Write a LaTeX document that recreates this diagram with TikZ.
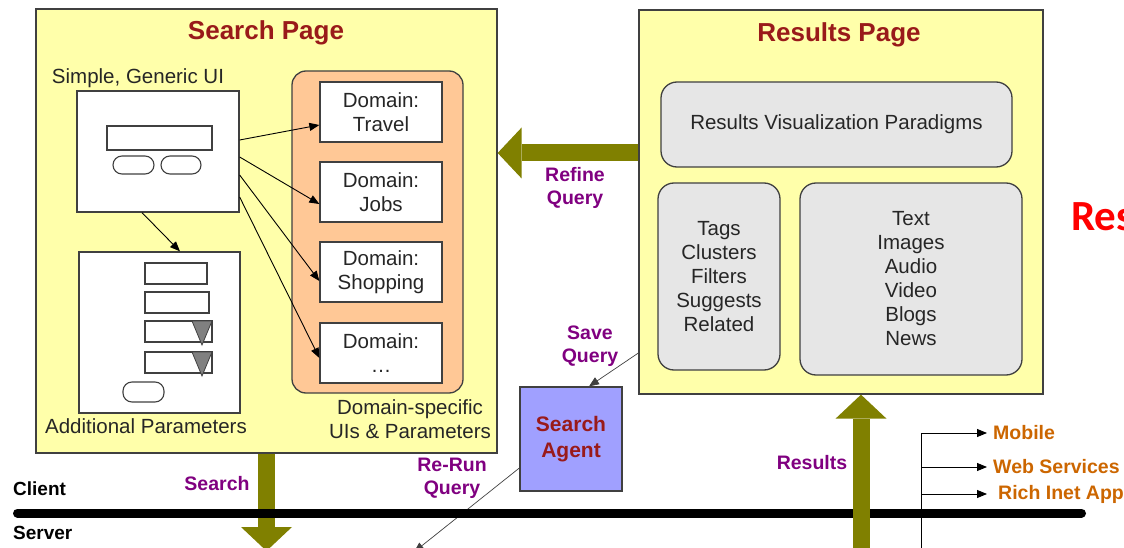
\documentclass[tikz,border=0pt]{standalone}
\usepackage{fontspec}
\setmainfont{Liberation Sans}
\newfontfamily\calibfont{Carlito}
\usepackage{tikz}
\usetikzlibrary{arrows.meta}

\definecolor{pageyellow}{RGB}{255,255,170}
\definecolor{domorange}{RGB}{255,200,150}
\definecolor{boxgray}{RGB}{230,230,230}
\definecolor{agentblue}{RGB}{160,160,255}
\definecolor{titlered}{RGB}{153,26,26}
\definecolor{labelpurple}{RGB}{128,0,128}
\definecolor{outorange}{RGB}{204,102,0}
\definecolor{arrowolive}{RGB}{128,128,0}
\definecolor{edgegray}{RGB}{64,64,64}

\newcommand{\bodysize}{\fontsize{20.5}{24}\selectfont}
\newcommand{\titlesize}{\fontsize{26}{30}\selectfont\bfseries}
\newcommand{\tagsize}{\fontsize{19.5}{23}\selectfont\bfseries}

\begin{document}
\begin{tikzpicture}[x=1pt,y=-1pt,
    page/.style={draw=edgegray,line width=1.3pt,fill=pageyellow,inner sep=0pt},
    whitebox/.style={draw=edgegray,line width=1.3pt,fill=white},
    plain/.style={inner sep=0pt,align=center,font=\bodysize,text=black!85},
    graybox/.style={draw=edgegray,line width=1.3pt,fill=boxgray,rounded corners=16pt,plain},
    title/.style={inner sep=0pt,font=\titlesize,text=titlered},
    flowlabel/.style={inner sep=0pt,align=center,font=\tagsize,text=labelpurple},
    bigarrow/.style={arrowolive,line width=17pt,-{Triangle[length=24pt,width=51pt,line width=0pt]}},
    thinarrow/.style={draw=black,line width=0.9pt,-{Triangle[length=10pt,width=8pt]}},
    widget/.style={draw=edgegray,line width=1.1pt,fill=white}
  ]
  \useasboundingbox (0,0) rectangle (1124,548);
  \clip (0,0) rectangle (1124,548);

  % search page
  \node[page,minimum width=461pt,minimum height=444pt] (search) at (266.5,231) {};
  \node[title] (searchtitle) at (266,33) {Search Page};
  \node[plain] (uilabel) at (138,78) {Simple, Generic UI};
  \node[whitebox,minimum width=162pt,minimum height=121pt] (ui) at (158,151.5) {};
  \draw[widget] (107,126) rectangle (212,150);
  \draw[widget,rounded corners=9pt] (113,156) rectangle (154,174);
  \draw[widget,rounded corners=9pt] (161,156) rectangle (201,174);

  \node[whitebox,minimum width=161pt,minimum height=161pt] (params) at (159.5,332.5) {};
  \foreach \y/\r in {263/207,292/209}
    \draw[widget] (145,\y) rectangle (\r,\y+21);
  \foreach \y in {321,352}{
    \draw[widget] (145,\y) rectangle (212,\y+21);
    \draw[draw=edgegray,line width=0.8pt,fill=gray] (192,\y) -- (212,\y) -- (202,\y+24) -- cycle;
  }
  \draw[widget,rounded corners=9pt] (123,382) rectangle (164,402);
  \node[plain] (paramslabel) at (146,426) {Additional Parameters};
  \draw[thinarrow] ([xshift=-16pt]ui.south) -- ([xshift=20.5pt]params.north);

  \node[page,fill=domorange,rounded corners=14pt,minimum width=171pt,minimum height=322pt] (domains) at (377.5,232) {};
  \foreach \name/\txt/\y in {travel/Travel/112,jobs/Jobs/192,shopping/Shopping/272,more/\dots/353}
    \node[whitebox,plain,minimum width=122pt,minimum height=60pt] (\name) at (381,\y) {Domain:\\\txt};
  \foreach \s/\name/\e in {11.5/travel/-13,-5.5/jobs/-12,-23.5/shopping/-9,-45.5/more/-5}
    \draw[thinarrow] ([yshift=\s pt]ui.east) -- ([yshift=\e pt]\name.west);
  \node[plain] (domlabel) at (410,419) {Domain-specific\\UIs \& Parameters};

  % results page
  \node[page,minimum width=404pt,minimum height=384pt] (results) at (841,202) {};
  \node[title] (resultstitle) at (839,35) {Results Page};
  \node[graybox,minimum width=351pt,minimum height=85pt] (viz) at (836.5,124.5) {Results Visualization Paradigms};
  \node[graybox,minimum width=122pt,minimum height=187pt] (tags) at (719,276.5) {Tags\\Clusters\\Filters\\Suggests\\Related};
  \node[graybox,minimum width=222pt,minimum height=192pt] (media) at (911,279) {Text\\Images\\Audio\\Video\\Blogs\\News};
  \node[font=\calibfont\fontsize{43}{50}\selectfont\bfseries,text=red,anchor=base west,inner sep=0pt] (cutlabel) at (1071,230) {Res};

  \draw[bigarrow] ([yshift=49pt]results.west) -- ([yshift=78pt]search.east);
  \node[flowlabel] (refinelabel) at (575,188) {Refine\\Query};

  % agent
  \node[page,fill=agentblue,minimum width=102pt,minimum height=104pt,align=center,font=\fontsize{21}{26}\selectfont\bfseries,text=titlered] (agent) at (571,439) {Search\\Agent};
  \draw[thinarrow,draw=edgegray,line width=0.7pt] ([yshift=-151pt]results.west) -- ([xshift=18pt]agent.north);
  \node[flowlabel] (savelabel) at (590,346) {Save\\Query};
  \coordinate (rerunend) at (414,552);
  \draw[thinarrow,draw=edgegray,line width=0.7pt] ([yshift=-29pt]agent.west) -- (rerunend);
  \node[flowlabel] (rerunlabel) at (452,478) {Re-Run\\Query};

  % client / server
  \coordinate (searchend) at (266.5,551);
  \draw[bigarrow] (search.south) -- (searchend);
  \node[flowlabel] (searchlabel) at (217,484) {Search};
  \node[font=\fontsize{19}{23}\selectfont\bfseries,anchor=west,inner sep=0pt] (client) at (13,489) {Client};
  \node[font=\fontsize{19}{23}\selectfont\bfseries,anchor=west,inner sep=0pt] (server) at (13,533) {Server};
  \coordinate (busleft) at (17.5,513);
  \coordinate (busright) at (1081.5,513);
  \draw[line width=9pt,line cap=round] (busleft) -- (busright);

  \coordinate (resultsstart) at (861,560);
  \draw[bigarrow] (resultsstart) -- ([xshift=20pt]results.south);
  \node[flowlabel] (resultslabel) at (812,463) {Results};

  \coordinate (trunktop) at (921.5,433);
  \coordinate (trunkend) at (921.5,560);
  \draw[line width=1pt] (trunktop) -- (trunkend);
  \foreach \name/\txt/\y/\sep in {mobile/Mobile/433/6,webserv/Web Services/467/6,richapp/Rich Inet App/494/11}{
    \node[font=\tagsize,text=outorange,anchor=west,inner ysep=0pt,inner xsep=\sep pt] (\name) at (987,\y) {\txt};
    \draw[thinarrow] (trunktop |- \name.west) -- (\name.west);
  }
\end{tikzpicture}
\end{document}
